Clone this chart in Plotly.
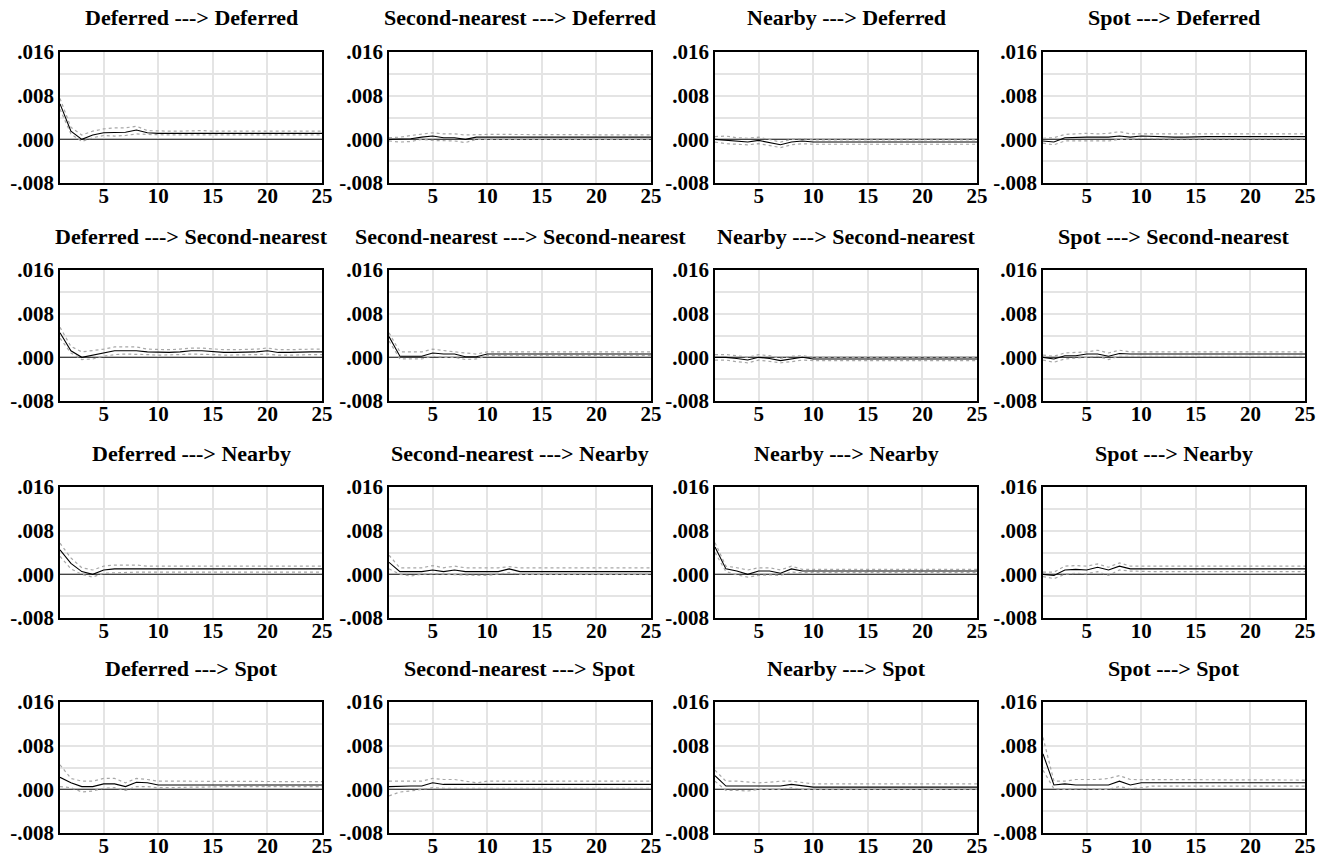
import plotly.graph_objects as go

periods = list(range(1, 26))
variables = ["Deferred", "Second-nearest", "Nearby", "Spot"]
y_tickvals = [-0.008, 0.0, 0.008, 0.016]
y_ticktext = ["-.008", ".000", ".008", ".016"]
x_tickvals = [5, 10, 15, 20, 25]
x_ticktext = ["5", "10", "15", "20", "25"]

# values in thousandths (x 0.001); key = (response row, impulse column)
resp = {
    (0, 0): [6.5, 1.5, 0.0, 0.8, 1.2, 1.2, 1.3, 1.7, 1.2, 1.1, 1.1, 1.1, 1.2, 1.1, 1.1, 1.1, 1.1, 1.1, 1.1, 1.1, 1.1, 1.1, 1.1, 1.1, 1.1],
    (0, 1): [0.0, 0.0, 0.1, 0.4, 0.6, 0.3, 0.3, 0.0, 0.4, 0.4, 0.4, 0.4, 0.4, 0.4, 0.4, 0.4, 0.4, 0.4, 0.4, 0.4, 0.4, 0.4, 0.4, 0.4, 0.4],
    (0, 2): [0.0, -0.2, -0.3, -0.5, -0.2, -0.6, -1.0, -0.5, -0.3, -0.5, -0.5, -0.5, -0.5, -0.5, -0.5, -0.5, -0.5, -0.5, -0.5, -0.5, -0.5, -0.5, -0.5, -0.5, -0.5],
    (0, 3): [-0.3, -0.5, 0.3, 0.4, 0.4, 0.4, 0.4, 0.6, 0.4, 0.6, 0.5, 0.5, 0.4, 0.4, 0.5, 0.5, 0.5, 0.5, 0.5, 0.5, 0.5, 0.5, 0.5, 0.5, 0.5],
    (1, 0): [4.5, 1.2, 0.0, 0.4, 0.8, 1.2, 1.2, 1.2, 1.0, 0.9, 0.9, 1.0, 1.2, 1.2, 1.0, 0.9, 0.9, 0.9, 1.0, 1.2, 0.9, 0.9, 1.0, 1.0, 1.0],
    (1, 1): [3.8, 0.2, 0.2, 0.2, 0.8, 0.6, 0.6, 0.1, 0.1, 0.6, 0.6, 0.6, 0.6, 0.6, 0.6, 0.6, 0.6, 0.6, 0.6, 0.6, 0.6, 0.6, 0.6, 0.6, 0.6],
    (1, 2): [0.0, 0.0, -0.2, -0.5, 0.0, -0.2, -0.6, -0.3, 0.0, -0.3, -0.3, -0.3, -0.3, -0.3, -0.3, -0.3, -0.3, -0.3, -0.3, -0.3, -0.3, -0.3, -0.3, -0.3, -0.3],
    (1, 3): [0.0, -0.3, 0.3, 0.3, 0.6, 0.6, 0.2, 0.7, 0.6, 0.6, 0.6, 0.6, 0.6, 0.6, 0.6, 0.6, 0.6, 0.6, 0.6, 0.6, 0.6, 0.6, 0.6, 0.6, 0.6],
    (2, 0): [4.5, 2.0, 0.5, 0.0, 0.8, 1.0, 1.0, 1.0, 1.0, 1.0, 1.0, 1.0, 1.0, 1.0, 1.0, 1.0, 1.0, 1.0, 1.0, 1.0, 1.0, 1.0, 1.0, 1.0, 1.0],
    (2, 1): [2.2, 0.5, 0.5, 0.5, 0.8, 0.5, 0.8, 0.5, 0.5, 0.5, 0.5, 1.0, 0.5, 0.5, 0.5, 0.5, 0.5, 0.5, 0.5, 0.5, 0.5, 0.5, 0.5, 0.5, 0.5],
    (2, 2): [5.0, 1.0, 0.6, 0.0, 0.6, 0.6, 0.2, 1.0, 0.6, 0.6, 0.6, 0.6, 0.6, 0.6, 0.6, 0.6, 0.6, 0.6, 0.6, 0.6, 0.6, 0.6, 0.6, 0.6, 0.6],
    (2, 3): [0.0, -0.2, 0.8, 0.9, 0.8, 1.3, 0.8, 1.5, 1.0, 1.0, 1.0, 1.0, 1.0, 1.0, 1.0, 1.0, 1.0, 1.0, 1.0, 1.0, 1.0, 1.0, 1.0, 1.0, 1.0],
    (3, 0): [2.2, 1.2, 0.5, 0.5, 1.0, 1.0, 0.5, 1.3, 1.2, 0.8, 0.8, 0.8, 0.8, 0.8, 0.8, 0.8, 0.8, 0.8, 0.8, 0.8, 0.8, 0.8, 0.8, 0.8, 0.8],
    (3, 1): [0.5, 0.6, 0.6, 0.6, 1.2, 0.9, 0.9, 0.9, 0.8, 0.9, 0.9, 0.9, 0.9, 0.9, 0.9, 0.9, 0.9, 0.9, 0.9, 0.9, 0.9, 0.9, 0.9, 0.9, 0.9],
    (3, 2): [2.5, 0.6, 0.6, 0.6, 0.6, 0.6, 0.6, 0.9, 0.6, 0.4, 0.4, 0.4, 0.4, 0.4, 0.4, 0.4, 0.4, 0.4, 0.4, 0.4, 0.4, 0.4, 0.4, 0.4, 0.4],
    (3, 3): [6.5, 0.8, 1.0, 0.8, 0.8, 0.8, 0.8, 1.5, 0.8, 1.2, 1.2, 1.2, 1.2, 1.2, 1.2, 1.2, 1.2, 1.2, 1.2, 1.2, 1.2, 1.2, 1.2, 1.2, 1.2],
}

upper = {
    (0, 0): [7.5, 2.2, 0.8, 1.5, 1.9, 2.1, 2.1, 2.4, 1.6, 1.5, 1.5, 1.5, 1.6, 1.6, 1.5, 1.5, 1.5, 1.6, 1.5, 1.5, 1.5, 1.5, 1.5, 1.5, 1.5],
    (0, 1): [0.3, 0.4, 0.7, 1.0, 1.2, 1.0, 1.0, 0.8, 0.9, 0.9, 0.9, 0.9, 0.9, 0.8, 0.8, 0.8, 0.8, 0.8, 0.8, 0.8, 0.8, 0.8, 0.8, 0.8, 0.8],
    (0, 2): [0.5, 0.6, 0.3, 0.2, 0.4, 0.0, -0.5, 0.0, 0.1, -0.1, -0.1, -0.1, -0.1, -0.1, -0.1, -0.1, -0.1, -0.1, -0.1, -0.1, -0.1, -0.1, -0.1, -0.1, -0.1],
    (0, 3): [0.2, 0.3, 0.9, 1.0, 1.1, 1.0, 1.1, 1.4, 1.0, 1.0, 1.0, 1.0, 1.0, 1.0, 1.0, 1.0, 1.0, 1.0, 1.0, 1.0, 1.0, 1.0, 1.0, 1.0, 1.0],
    (1, 0): [5.5, 2.0, 1.0, 1.2, 1.5, 1.9, 1.9, 1.9, 1.5, 1.4, 1.4, 1.5, 1.7, 1.7, 1.5, 1.4, 1.4, 1.4, 1.5, 1.7, 1.4, 1.4, 1.5, 1.5, 1.5],
    (1, 1): [4.5, 1.0, 1.0, 1.0, 1.5, 1.2, 1.0, 0.8, 0.6, 1.0, 1.0, 1.0, 1.0, 1.0, 1.0, 1.0, 1.0, 1.0, 1.0, 1.0, 1.0, 1.0, 1.0, 1.0, 1.0],
    (1, 2): [0.5, 0.5, 0.3, 0.0, 0.5, 0.3, -0.2, 0.2, 0.3, 0.0, 0.0, 0.0, 0.0, 0.0, 0.0, 0.0, 0.0, 0.0, 0.0, 0.0, 0.0, 0.0, 0.0, 0.0, 0.0],
    (1, 3): [0.4, 0.2, 0.8, 0.9, 1.0, 1.3, 0.8, 1.3, 1.0, 1.0, 1.0, 1.0, 1.0, 1.0, 1.0, 1.0, 1.0, 1.0, 1.0, 1.0, 1.0, 1.0, 1.0, 1.0, 1.0],
    (2, 0): [5.7, 3.0, 1.2, 0.8, 1.5, 1.7, 1.7, 1.7, 1.5, 1.5, 1.5, 1.5, 1.5, 1.5, 1.5, 1.5, 1.5, 1.5, 1.5, 1.5, 1.5, 1.5, 1.5, 1.5, 1.5],
    (2, 1): [3.5, 1.2, 1.2, 1.2, 1.6, 1.2, 1.5, 1.2, 1.2, 1.2, 1.2, 1.4, 1.2, 1.2, 1.2, 1.2, 1.2, 1.2, 1.2, 1.2, 1.2, 1.2, 1.2, 1.2, 1.2],
    (2, 2): [5.8, 1.5, 1.2, 0.8, 1.2, 1.2, 0.8, 1.5, 0.9, 0.9, 0.9, 0.9, 0.9, 0.9, 0.9, 0.9, 0.9, 0.9, 0.9, 0.9, 0.9, 0.9, 0.9, 0.9, 0.9],
    (2, 3): [0.4, 0.4, 1.5, 1.6, 1.5, 1.9, 1.3, 2.1, 1.5, 1.5, 1.5, 1.5, 1.5, 1.5, 1.5, 1.5, 1.5, 1.5, 1.5, 1.5, 1.5, 1.5, 1.5, 1.5, 1.5],
    (3, 0): [4.5, 2.0, 1.5, 1.5, 2.0, 2.0, 1.2, 2.0, 1.8, 1.5, 1.5, 1.5, 1.5, 1.5, 1.5, 1.5, 1.4, 1.4, 1.4, 1.4, 1.4, 1.4, 1.4, 1.4, 1.4],
    (3, 1): [1.5, 1.5, 1.4, 1.5, 2.0, 1.8, 1.8, 1.5, 1.2, 1.5, 1.5, 1.5, 1.5, 1.5, 1.5, 1.5, 1.5, 1.5, 1.5, 1.5, 1.5, 1.5, 1.5, 1.5, 1.5],
    (3, 2): [3.5, 1.5, 1.5, 1.3, 1.2, 1.3, 1.5, 1.5, 1.3, 1.0, 1.0, 1.0, 1.0, 1.0, 1.0, 1.0, 1.0, 1.0, 1.0, 1.0, 1.0, 1.0, 1.0, 1.0, 1.0],
    (3, 3): [9.5, 1.5, 1.5, 1.8, 1.8, 1.8, 2.0, 2.5, 1.8, 1.8, 1.7, 1.7, 1.7, 1.7, 1.7, 1.8, 1.7, 1.7, 1.7, 1.7, 1.8, 1.7, 1.7, 1.7, 1.7],
}

lower = {
    (0, 0): [5.5, 1.0, -0.4, 0.3, 0.7, 0.6, 0.7, 1.0, 0.9, 0.8, 0.8, 0.8, 0.8, 0.8, 0.8, 0.8, 0.8, 0.8, 0.8, 0.8, 0.8, 0.8, 0.8, 0.8, 0.8],
    (0, 1): [-0.3, -0.5, -0.4, 0.0, -0.2, -0.3, -0.3, -0.6, 0.0, 0.0, 0.0, 0.0, 0.0, 0.0, 0.0, 0.0, 0.0, 0.0, 0.0, 0.0, 0.0, 0.0, 0.0, 0.0, 0.0],
    (0, 2): [-0.5, -0.8, -0.9, -1.0, -0.8, -1.2, -1.5, -1.0, -0.8, -0.9, -0.9, -0.9, -0.9, -1.0, -0.9, -0.9, -0.9, -0.9, -0.9, -0.9, -0.9, -0.9, -0.9, -0.9, -0.9],
    (0, 3): [-0.7, -1.0, -0.3, -0.3, -0.4, -0.3, -0.3, 0.0, 0.0, 0.2, 0.1, 0.1, 0.1, 0.1, 0.1, 0.1, 0.1, 0.1, 0.1, 0.1, 0.1, 0.1, 0.1, 0.1, 0.1],
    (1, 0): [3.5, 0.8, -0.4, -0.3, 0.2, 0.5, 0.6, 0.6, 0.5, 0.4, 0.4, 0.5, 0.6, 0.6, 0.5, 0.4, 0.4, 0.4, 0.5, 0.6, 0.4, 0.4, 0.5, 0.5, 0.5],
    (1, 1): [3.0, -0.3, -0.3, -0.3, 0.2, 0.0, 0.0, -0.4, -0.3, 0.3, 0.3, 0.3, 0.3, 0.3, 0.3, 0.3, 0.3, 0.3, 0.3, 0.3, 0.3, 0.3, 0.3, 0.3, 0.3],
    (1, 2): [-0.5, -0.5, -0.8, -1.0, -0.5, -0.8, -1.0, -0.8, -0.5, -0.6, -0.6, -0.6, -0.6, -0.6, -0.6, -0.6, -0.6, -0.6, -0.6, -0.6, -0.6, -0.6, -0.6, -0.6, -0.6],
    (1, 3): [-0.5, -0.9, -0.3, -0.2, 0.0, 0.2, -0.4, 0.2, 0.2, 0.2, 0.2, 0.2, 0.2, 0.2, 0.2, 0.2, 0.2, 0.2, 0.2, 0.2, 0.2, 0.2, 0.2, 0.2, 0.2],
    (2, 0): [3.3, 1.0, 0.0, -0.5, 0.2, 0.3, 0.4, 0.4, 0.4, 0.4, 0.4, 0.4, 0.4, 0.4, 0.4, 0.4, 0.4, 0.4, 0.4, 0.4, 0.4, 0.4, 0.4, 0.4, 0.4],
    (2, 1): [1.0, 0.0, -0.3, 0.0, 0.1, 0.0, 0.0, -0.2, -0.2, -0.2, 0.0, 0.3, 0.0, 0.0, 0.0, 0.0, 0.0, 0.0, 0.0, 0.0, 0.0, 0.0, 0.0, 0.0, 0.0],
    (2, 2): [4.0, 0.5, -0.1, -0.5, -0.2, -0.1, -0.2, 0.4, 0.3, 0.3, 0.3, 0.3, 0.3, 0.3, 0.3, 0.3, 0.3, 0.3, 0.3, 0.3, 0.3, 0.3, 0.3, 0.3, 0.3],
    (2, 3): [-0.4, -0.8, 0.0, 0.2, 0.1, 0.5, -0.2, 0.8, 0.6, 0.5, 0.5, 0.5, 0.5, 0.5, 0.5, 0.5, 0.5, 0.5, 0.5, 0.5, 0.5, 0.5, 0.5, 0.5, 0.5],
    (3, 0): [0.5, 0.3, -0.5, -0.3, 0.2, 0.3, -0.2, 0.5, 0.5, 0.3, 0.3, 0.4, 0.4, 0.4, 0.5, 0.5, 0.5, 0.5, 0.5, 0.5, 0.5, 0.5, 0.5, 0.5, 0.5],
    (3, 1): [-1.2, -0.5, -0.3, 0.0, 0.3, 0.2, 0.2, 0.2, 0.2, 0.1, 0.2, 0.2, 0.2, 0.2, 0.2, 0.2, 0.2, 0.2, 0.2, 0.2, 0.2, 0.2, 0.2, 0.2, 0.2],
    (3, 2): [1.5, -0.2, -0.2, -0.3, 0.0, 0.0, 0.0, 0.3, 0.0, 0.0, 0.0, 0.0, 0.0, 0.0, 0.0, 0.0, 0.0, 0.0, 0.0, 0.0, 0.0, 0.0, 0.0, 0.0, 0.0],
    (3, 3): [3.5, 0.1, 0.0, 0.1, 0.1, 0.0, 0.0, 0.5, 0.1, 0.3, 0.6, 0.6, 0.6, 0.6, 0.6, 0.6, 0.6, 0.6, 0.6, 0.6, 0.6, 0.6, 0.6, 0.6, 0.6],
}

W, H = 1329, 858
col_left = [60, 389, 715, 1043]
row_top = [52, 270, 487, 702]
pw, ph = 262, 131
FONT = "Liberation Serif"


def bold(s):
    return f"<b>{s}</b>"


fig = go.Figure()
layout = dict(
    template="none",
    width=W, height=H, margin=dict(l=0, r=0, t=0, b=0, pad=0, autoexpand=False),
    paper_bgcolor="white", plot_bgcolor="white", showlegend=False,
    font=dict(family=FONT, color="black"),
)
annotations = []

for r in range(4):
    for c in range(4):
        k = r * 4 + c + 1
        xa = "xaxis" if k == 1 else f"xaxis{k}"
        ya = "yaxis" if k == 1 else f"yaxis{k}"
        xr = "x" if k == 1 else f"x{k}"
        yr = "y" if k == 1 else f"y{k}"
        x0 = col_left[c] / W
        x1 = (col_left[c] + pw) / W
        y1 = 1 - row_top[r] / H
        y0 = 1 - (row_top[r] + ph) / H
        layout[xa] = dict(
            domain=[x0, x1], anchor=yr, range=[1, 25], automargin=False,
            tickvals=x_tickvals, ticktext=[bold(t) for t in x_ticktext], ticks="",
            showgrid=True, gridcolor="#e4e4e4", gridwidth=1.5,
            showline=True, linecolor="black", linewidth=1.5, mirror=True, zeroline=False,
            ticklabelstandoff=-7,
            tickfont=dict(family=FONT, size=21, color="black"),
        )
        layout[ya] = dict(
            domain=[y0, y1], anchor=xr, range=[-0.008, 0.016], automargin=False,
            tickvals=y_tickvals, ticktext=[bold(t) for t in y_ticktext], ticks="",
            showgrid=True, gridcolor="#e4e4e4", gridwidth=1.5,
            minor=dict(dtick=0.004, tick0=0, showgrid=True, gridcolor="#e4e4e4", gridwidth=1.5),
            showline=True, linecolor="black", linewidth=1.5, mirror=True,
            zeroline=False, ticklabelstandoff=0,
            tickfont=dict(family=FONT, size=21, color="black"),
        )
        key = (r, c)
        fig.add_trace(go.Scatter(
            x=[1, 25], y=[0, 0], mode="lines", xaxis=xr, yaxis=yr,
            line=dict(color="#444444", width=1.3), hoverinfo="skip"))
        for band in (upper[key], lower[key]):
            fig.add_trace(go.Scatter(
                x=periods, y=[v / 1000 for v in band], mode="lines", xaxis=xr, yaxis=yr,
                line=dict(color="#a8a8a8", width=1.2, dash="dot")))
        fig.add_trace(go.Scatter(
            x=periods, y=[v / 1000 for v in resp[key]], mode="lines", xaxis=xr, yaxis=yr,
            line=dict(color="black", width=1.1)))
        annotations.append(dict(
            text=bold(f"{variables[c]} ---> {variables[r]}"),
            x=(col_left[c] + pw / 2) / W, y=1 - (row_top[r] - 34) / H,
            xref="paper", yref="paper", xanchor="center", yanchor="middle",
            showarrow=False, font=dict(family=FONT, size=22, color="black"),
        ))

layout["annotations"] = annotations
fig.update_layout(**layout)
fig.write_html("out.html")
